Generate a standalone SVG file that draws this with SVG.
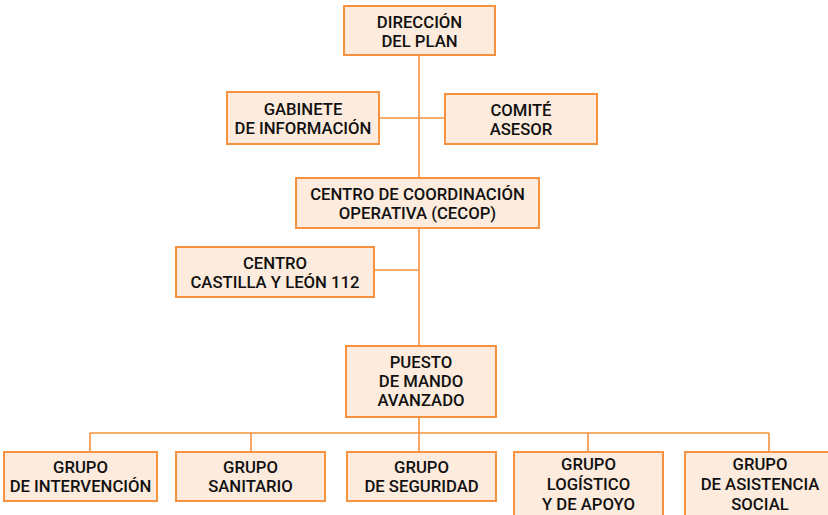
<svg xmlns="http://www.w3.org/2000/svg" width="828" height="515" viewBox="0 0 828 515">
<style>
.box{fill:#FDEBDD;stroke:#F6923F;stroke-width:2}
.ln{stroke:#F6923F;stroke-width:1.6;fill:none}
text{font-family:Roboto,"Liberation Sans",sans-serif;font-weight:500;font-size:16.7px;fill:#111111;text-anchor:middle}
</style>
<rect width="828" height="515" fill="#ffffff"/>
<g id="connectors">
<path class="ln" d="M419 55V178M419 228V346M419 417V433M379 118H445M374 270H419M90 433H769M90 433V452M251 433V452M419 433V452M588 433V452M769 433V452"/>
</g>
<g id="direccion"><rect class="box" x="344" y="6" width="151" height="49"/><text x="419.5" y="28">DIRECCIÓN</text><text x="419.5" y="47">DEL PLAN</text></g>
<g id="gabinete"><rect class="box" x="227" y="92" width="152" height="52"/><text x="303" y="115">GABINETE</text><text x="303" y="134">DE INFORMACIÓN</text></g>
<g id="comite"><rect class="box" x="445" y="94" width="152" height="50"/><text x="521" y="116">COMITÉ</text><text x="521" y="135">ASESOR</text></g>
<g id="cecop"><rect class="box" x="296" y="178" width="243" height="50"/><text x="417.5" y="200">CENTRO DE COORDINACIÓN</text><text x="417.5" y="219">OPERATIVA (CECOP)</text></g>
<g id="centro112"><rect class="box" x="176" y="247" width="198" height="50"/><text x="275" y="269">CENTRO</text><text x="275" y="288">CASTILLA Y LEÓN 112</text></g>
<g id="puesto"><rect class="box" x="346" y="346" width="150" height="71"/><text x="421" y="368">PUESTO</text><text x="421" y="387">DE MANDO</text><text x="421" y="406">AVANZADO</text></g>
<g id="intervencion"><rect class="box" x="4" y="452" width="153" height="49"/><text x="80.5" y="473">GRUPO</text><text x="80.5" y="492">DE INTERVENCIÓN</text></g>
<g id="sanitario"><rect class="box" x="176" y="452" width="149" height="49"/><text x="250.5" y="473">GRUPO</text><text x="250.5" y="492">SANITARIO</text></g>
<g id="seguridad"><rect class="box" x="347" y="452" width="149" height="49"/><text x="421.5" y="473">GRUPO</text><text x="421.5" y="492">DE SEGURIDAD</text></g>
<g id="logistico"><rect class="box" x="514" y="452" width="149" height="70"/><text x="588.5" y="470">GRUPO</text><text x="588.5" y="490">LOGÍSTICO</text><text x="588.5" y="510">Y DE APOYO</text></g>
<g id="asistencia"><rect class="box" x="685" y="452" width="150" height="70"/><text x="760" y="470">GRUPO</text><text x="760" y="490">DE ASISTENCIA</text><text x="760" y="510">SOCIAL</text></g>
</svg>
